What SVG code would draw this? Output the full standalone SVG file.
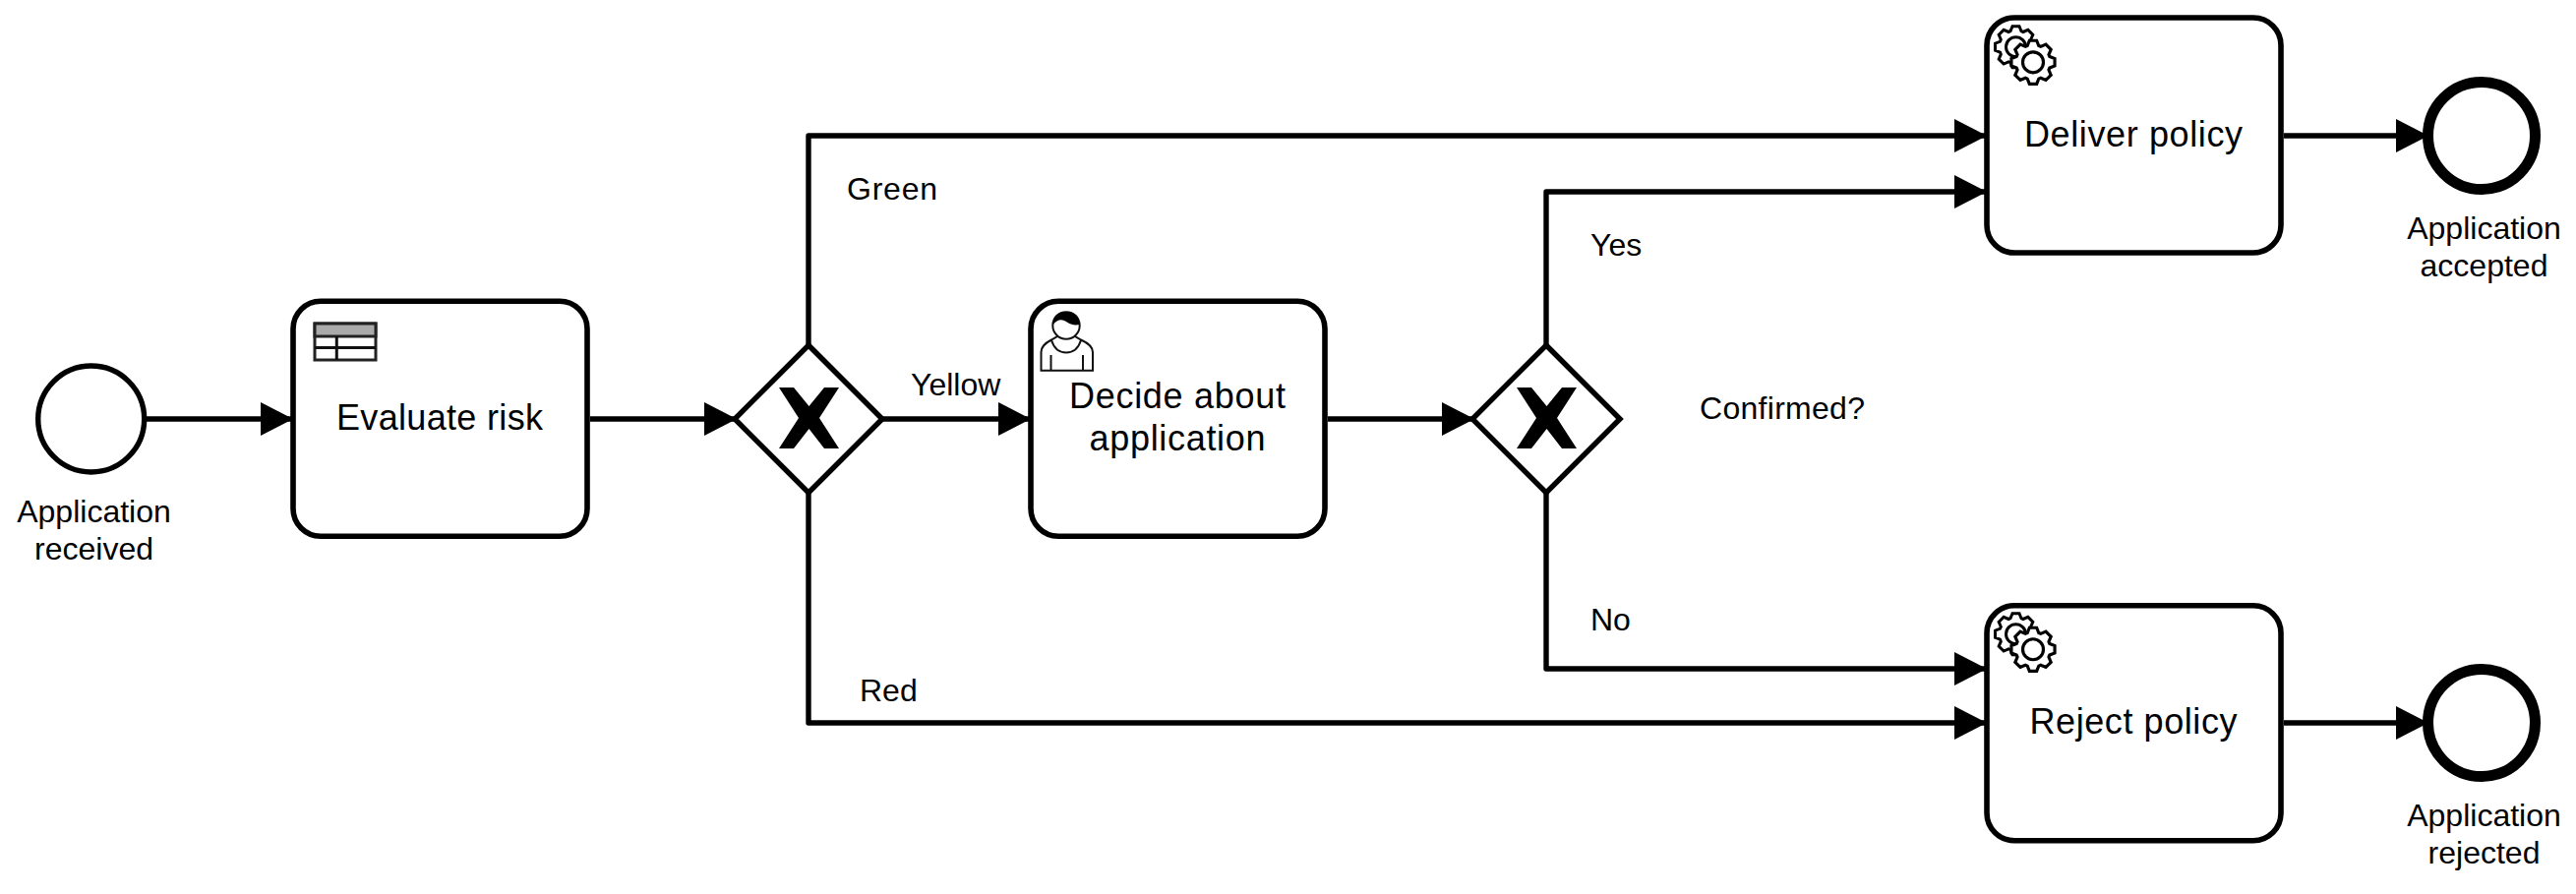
<svg xmlns="http://www.w3.org/2000/svg" xmlns:xlink="http://www.w3.org/1999/xlink" width="2619" height="909" viewBox="0 0 2619 909">
<style>
text{font-family:"Liberation Sans",Arial,sans-serif;fill:#000}
.t{font-size:36px;text-anchor:middle}
.l{font-size:32px}
.c{font-size:32px;text-anchor:middle}
.flow{fill:none;stroke:#000;stroke-width:5.4;stroke-linejoin:round;marker-end:url(#arrow)}
.task{fill:#fff;stroke:#000;stroke-width:5.6}
.gw{fill:#fff;stroke:#000;stroke-width:5.4;stroke-linejoin:miter}
.gear{fill:#fff;stroke:#000;stroke-width:3;stroke-linejoin:miter}
.ev{fill:#fff;stroke:#000}
</style>
<defs>
<marker id="arrow" markerUnits="userSpaceOnUse" markerWidth="33" markerHeight="34" refX="33" refY="17" orient="auto"><path d="M0,0 L33,17 L0,34 z" fill="#000"/></marker>
<g id="gear"><polygon class="gear" points="-5.5,-16 -3.5,-21 3.5,-21 5.5,-16 7.42,-15.2 12.37,-17.32 17.32,-12.37 15.2,-7.42 16,-5.5 21,-3.5 21,3.5 16,5.5 15.2,7.42 17.32,12.37 12.37,17.32 7.42,15.2 5.5,16 3.5,21 -3.5,21 -5.5,16 -7.42,15.2 -12.37,17.32 -17.32,12.37 -15.2,7.42 -16,5.5 -21,3.5 -21,-3.5 -16,-5.5 -15.2,-7.42 -17.32,-12.37 -12.37,-17.32 -7.42,-15.2"/><circle class="gear" r="10"/></g>
<g id="gears"><use xlink:href="#gear" href="#gear" transform="translate(2049.5,47.7)"/><use xlink:href="#gear" href="#gear" transform="translate(2067,63.3) scale(1.05)"/></g>
<polygon id="xmark" points="-30,-32 -15,-32 0.5,-13 16,-32 31,-32 11,-1 31,30 16,30 0.5,10 -15,30 -30,30 -10,-1" fill="#000"/>
</defs>
<rect width="2619" height="909" fill="#fff"/>
<g id="connectors">
<path class="flow" d="M149 426H298"/>
<path class="flow" d="M600 426H749"/>
<path class="flow" d="M895 426H1048"/>
<path class="flow" d="M1350 426H1499"/>
<path class="flow" d="M822 353V138H2020"/>
<path class="flow" d="M822 499V735H2020"/>
<path class="flow" d="M1572 353V195H2020"/>
<path class="flow" d="M1572 499V680H2020"/>
<path class="flow" d="M2322 138H2469"/>
<path class="flow" d="M2322 735H2469"/>
</g>
<g id="start"><circle class="ev" cx="92.7" cy="426" r="54" stroke-width="5.4"/><text class="c" x="95.5" y="531">Application</text><text class="c" x="95.5" y="569">received</text></g>
<g id="evaluate"><rect class="task" x="298" y="306.3" width="299" height="239" rx="28"/>
<rect x="320" y="329" width="62" height="37" fill="#fff" stroke="#222" stroke-width="3"/><rect x="320" y="329" width="62" height="13" fill="#aaa" stroke="#222" stroke-width="3"/><path d="M320 353.5H382M342.3 342V366" fill="none" stroke="#111" stroke-width="3"/>
<text class="t" x="447" y="437" textLength="210">Evaluate risk</text></g>
<g id="gateway1"><polygon class="gw" points="822,351 897,426 822,501 747,426"/><use xlink:href="#xmark" href="#xmark" transform="translate(822,426)"/></g>
<g id="decide"><rect class="task" x="1048" y="306.3" width="299" height="239" rx="28"/>
<path d="M1058.5 376.7V358Q1058.5 351 1069 345.5L1076 341.5L1092 341.5L1099 345.5Q1111 351 1111 358V376.7Z M1069 346Q1073 358.5 1084 358.5Q1095 358.5 1099 346M1068.5 361V376.7M1101 361V376.7" fill="#fff" stroke="#111" stroke-width="2"/>
<circle cx="1084" cy="331" r="13.7" fill="#fff" stroke="#111" stroke-width="2"/>
<path d="M1070.5 330Q1070.5 317 1084 317Q1097.5 317 1097.5 330Q1090 331.5 1084 327Q1077 322.5 1070.5 330Z" fill="#000"/>
<text class="t" x="1197" y="415" textLength="220">Decide about</text><text class="t" x="1197" y="458" textLength="179">application</text></g>
<g id="gateway2"><polygon class="gw" points="1572,351 1647,426 1572,501 1497,426"/><use xlink:href="#xmark" href="#xmark" transform="translate(1572,426)"/></g>
<g id="deliver"><rect class="task" x="2020" y="18" width="299" height="239" rx="28"/><use xlink:href="#gears" href="#gears"/><text class="t" x="2169" y="149" textLength="222">Deliver policy</text></g>
<g id="reject"><rect class="task" x="2020" y="615.7" width="299" height="239" rx="28"/><use xlink:href="#gears" href="#gears" transform="translate(0,597)"/><text class="t" x="2169" y="746" textLength="211">Reject policy</text></g>
<g id="end1"><circle class="ev" cx="2523" cy="138" r="54.5" stroke-width="11"/><text class="c" x="2525.5" y="243">Application</text><text class="c" x="2525.5" y="281">accepted</text></g>
<g id="end2"><circle class="ev" cx="2523" cy="735" r="54.5" stroke-width="11"/><text class="c" x="2525.5" y="840">Application</text><text class="c" x="2525.5" y="878">rejected</text></g>
<g id="labels">
<text class="l" x="861" y="203" textLength="92">Green</text>
<text class="l" x="926" y="402">Yellow</text>
<text class="l" x="874" y="713">Red</text>
<text class="l" x="1617" y="260">Yes</text>
<text class="l" x="1617" y="641">No</text>
<text class="l" x="1728" y="426" textLength="168">Confirmed?</text>
</g>
</svg>
